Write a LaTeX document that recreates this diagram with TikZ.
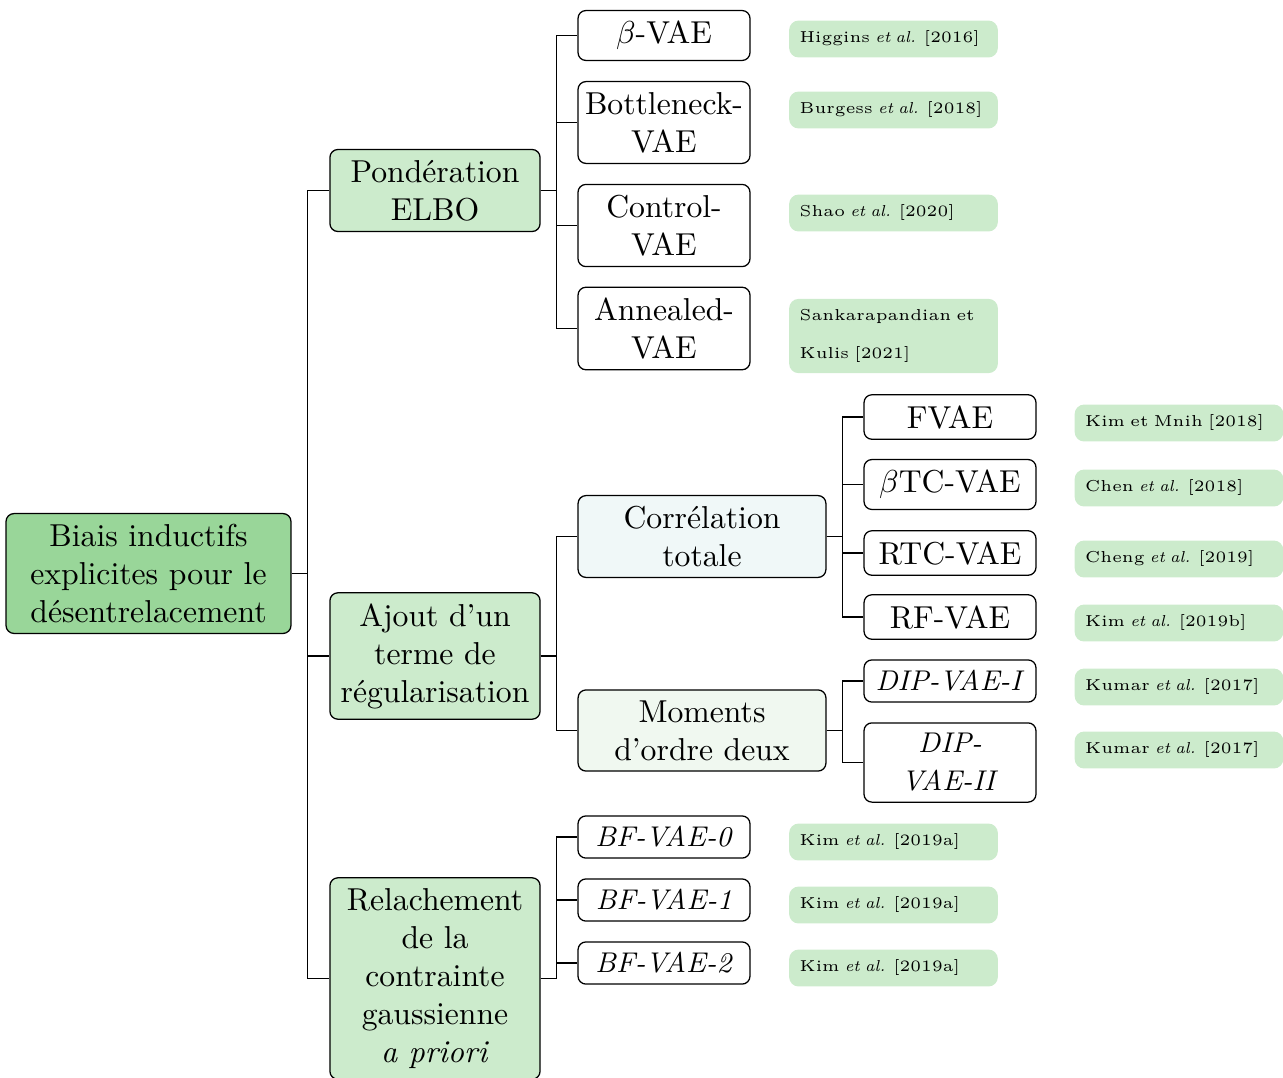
\documentclass[tikz,border=0pt]{standalone}
\usepackage{tikz}

\definecolor{rootgreen}{RGB}{153,214,153}
\definecolor{catgreen}{RGB}{204,235,204}
\definecolor{tcblue}{RGB}{240,248,248}
\definecolor{momgreen}{RGB}{240,248,240}

\newcommand{\vaename}[1]{{\fontsize{9}{12}\selectfont\textit{#1}}}

\begin{document}
\begin{tikzpicture}[x = 0.3155pt, y = -0.3155pt,
	box/.style = {rectangle, draw, rounded corners = 2.5pt, align = center, inner sep = 3.33pt},
	rootbox/.style = {box, fill = rootgreen, minimum width = 89.9pt},
	catbox/.style = {box, fill = catgreen, minimum width = 66.3pt},
	midbox/.style = {box, minimum width = 78.2pt},
	leafbox/.style = {box, fill = white, text width = 47.6pt},
	citebox/.style = {rectangle, fill = catgreen, rounded corners = 3pt, align = left, inner sep = 3.33pt,
		text width = 59.2pt, minimum height = 11.6pt, font = \fontsize{5}{12}\selectfont}]

	\useasboundingbox (0, 0) rectangle (1283, 1077);

	% Root and first level

	\node[rootbox] (root) at (148.5, 573.5) {Biais inductifs\\ explicites pour le\\ désentrelacement};
	\node[catbox] (pond) at (435, 190.5) {Pondération\\ ELBO};
	\node[catbox] (ajout) at (435, 656) {Ajout d'un\\ terme de\\ régularisation};
	\node[catbox] (relach) at (435, 978.5) {Relachement\\ de la\\ contrainte\\ gaussienne\\ \textit{a priori}};

	% Weighting of the ELBO

	\node[leafbox] (bvae) at (664, 35.5) {$\beta$-VAE};
	\node[leafbox] (bottle) at (664, 122.5) {\makebox[\linewidth]{Bottleneck-}\\ VAE};
	\node[leafbox] (control) at (664, 225.5) {Control-\\ VAE};
	\node[leafbox] (anneal) at (664, 328.5) {Annealed-\\ VAE};

	\node[citebox] (cbvae) at (893.5, 39) {Higgins \textit{et al.} [2016]};
	\node[citebox] (cbottle) at (893.5, 110) {Burgess \textit{et al.} [2018]};
	\node[citebox] (ccontrol) at (893.5, 213) {Shao \textit{et al.} [2020]};
	\node[citebox] (canneal) at (893.5, 336) {Sankarapandian et\\ Kulis [2021]};

	% Regularisation term

	\node[midbox, fill = tcblue] (tc) at (702, 536.5) {Corrélation\\ totale};
	\node[midbox, fill = momgreen] (mom) at (702, 730.5) {Moments\\ d'ordre deux};

	\node[leafbox] (fvae) at (950, 417) {FVAE};
	\node[leafbox] (btcvae) at (950, 484.5) {$\beta$TC-VAE};
	\node[leafbox] (rtcvae) at (950, 553) {RTC-VAE};
	\node[leafbox] (rfvae) at (950, 617) {RF-VAE};
	\node[leafbox] (dipone) at (950, 681) {\vaename{DIP-VAE-I}};
	\node[leafbox] (diptwo) at (950, 762.5) {\vaename{DIP-}\\ \vaename{VAE-II}};

	\node[citebox] (cfvae) at (1179, 423) {Kim et Mnih [2018]};
	\node[citebox] (cbtcvae) at (1179, 488) {Chen \textit{et al.} [2018]};
	\node[citebox] (crtcvae) at (1179, 559) {Cheng \textit{et al.} [2019]};
	\node[citebox] (crfvae) at (1179, 623) {Kim \textit{et al.} [2019b]};
	\node[citebox] (cdipone) at (1179, 687) {Kumar \textit{et al.} [2017]};
	\node[citebox] (cdiptwo) at (1179, 750) {Kumar \textit{et al.} [2017]};

	% Relaxed prior

	\node[leafbox] (bfzero) at (664, 837) {\vaename{BF-VAE-0}};
	\node[leafbox] (bfone) at (664, 900) {\vaename{BF-VAE-1}};
	\node[leafbox] (bftwo) at (664, 963) {\vaename{BF-VAE-2}};

	\node[citebox] (cbfzero) at (893.5, 842) {Kim \textit{et al.} [2019a]};
	\node[citebox] (cbfone) at (893.5, 905) {Kim \textit{et al.} [2019a]};
	\node[citebox] (cbftwo) at (893.5, 968) {Kim \textit{et al.} [2019a]};

	% Tree edges

	\begin{scope}[thin]

		\foreach \kid in {pond, ajout, relach}
			\draw (root.east) -- ++(5pt, 0) |- (\kid.west);

		\foreach \kid in {bvae, bottle, control, anneal}
			\draw (pond.east) -- ++(5pt, 0) |- (\kid.west);

		\foreach \kid in {tc, mom}
			\draw (ajout.east) -- ++(5pt, 0) |- (\kid.west);

		\foreach \kid in {fvae, btcvae, rtcvae, rfvae}
			\draw (tc.east) -- ++(5pt, 0) |- (\kid.west);

		\foreach \kid in {dipone, diptwo}
			\draw (mom.east) -- ++(5pt, 0) |- (\kid.west);

		\foreach \kid in {bfzero, bfone, bftwo}
			\draw (relach.east) -- ++(5pt, 0) |- (\kid.west);

	\end{scope}

\end{tikzpicture}
\end{document}
